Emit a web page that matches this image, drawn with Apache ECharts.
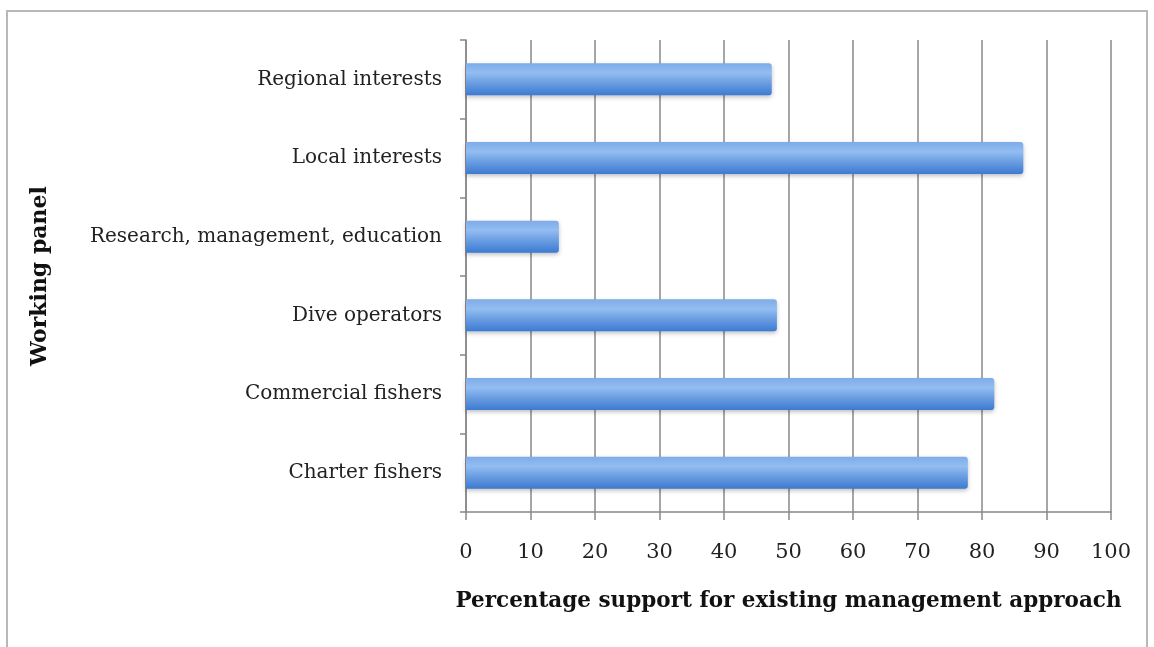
<!DOCTYPE html>
<html>
<head>
<meta charset="utf-8">
<script src="https://cdn.jsdelivr.net/npm/echarts@6/dist/echarts.min.js"></script>
<style>
  html, body { margin: 0; padding: 0; background: #fff; }
  #frame { position: absolute; left: 6px; top: 10px; width: 1142px; height: 645px; border: 2px solid #b8b8b8; box-sizing: border-box; }
  #chart { position: absolute; left: 0; top: 0; width: 1154px; height: 647px; }
</style>
</head>
<body>
<div id="frame"></div>
<div id="chart"></div>
<script>
// 分类和数值
const panels = ['Charter fishers', 'Commercial fishers', 'Dive operators', 'Research, management, education', 'Local interests', 'Regional interests']
const support = [77.8, 81.9, 48.2, 14.4, 86.4, 47.4]
const ticks = [0, 10, 20, 30, 40, 50, 60, 70, 80, 90, 100]

const font = "'DejaVu Serif', serif"
const chart = echarts.init(document.getElementById('chart'))

const barColor = new echarts.graphic.LinearGradient(0, 0, 0, 1, [
  { offset: 0, color: '#7eace9' },
  { offset: 0.3, color: '#93bdf1' },
  { offset: 0.6, color: '#6c9fe2' },
  { offset: 1, color: '#3c7ad2' },
])

chart.setOption({
  animation: false,
  grid: { left: 466, right: 43, top: 40, bottom: 135 },
  xAxis: {
    type: 'value',
    min: ticks[0],
    max: ticks[ticks.length - 1],
    interval: 10,
    name: 'Percentage support for existing management approach',
    nameLocation: 'middle',
    nameGap: 78,
    nameTextStyle: { fontFamily: font, fontWeight: 'bold', fontSize: 21.5, color: '#111' },
    axisLine: { show: true, lineStyle: { color: '#888', width: 1.5 } },
    axisTick: { show: true, length: 8, lineStyle: { color: '#888', width: 1.5 } },
    axisLabel: { fontFamily: font, fontSize: 21, color: '#222', margin: 30 },
    splitLine: { show: true, lineStyle: { color: '#888', width: 1.5 } },
  },
  yAxis: {
    type: 'category',
    data: panels,
    name: 'Working panel',
    nameLocation: 'middle',
    nameGap: 415,
    nameRotate: 90,
    nameTextStyle: { fontFamily: font, fontWeight: 'bold', fontSize: 22, color: '#111' },
    axisLine: { show: true, lineStyle: { color: '#888', width: 1.5 } },
    axisTick: { show: true, length: 6, lineStyle: { color: '#888', width: 1.5 } },
    axisLabel: { fontFamily: font, fontSize: 20, color: '#222', margin: 24 },
  },
  series: [
    {
      type: 'bar',
      data: support,
      barWidth: 32,
      itemStyle: {
        color: barColor,
        borderRadius: [0, 3, 3, 0],
        shadowColor: 'rgba(0,0,0,0.25)',
        shadowBlur: 4,
        shadowOffsetY: 2,
      },
    },
  ],
})
</script>
</body>
</html>
